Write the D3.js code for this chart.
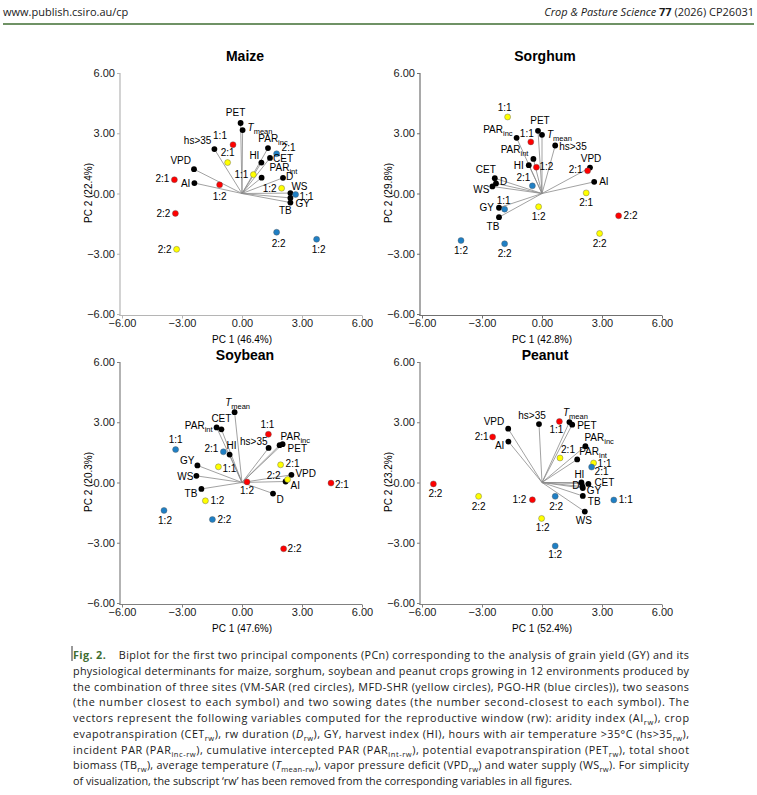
<!DOCTYPE html>
<html>
<head>
<meta charset="utf-8">
<script src="https://cdn.jsdelivr.net/npm/d3@7"></script>
<style>
  body { margin: 0; background: #fff; }
  svg { display: block; }
</style>
</head>
<body>
<script>
// ---- data: [variable, PC1, PC2]  and  [site, season:sowing, PC1, PC2]
const maizeVars = [
  ["PET", -0.07, 3.51], ["Tmean", 0.03, 3.16], ["hs>35", -1.38, 2.21], ["VPD", -2.40, 1.21],
  ["AI", -2.38, 0.52], ["PARinc", 1.30, 2.26], ["CET", 1.40, 1.77], ["HI", 0.97, 1.54],
  ["PARint", 0.98, 0.79], ["D", 2.05, 0.78], ["WS", 2.42, 0.02], ["GY", 2.42, -0.22], ["TB", 2.42, -0.45]
];
const maizeEnvs = [
  ["VM-SAR", "1:1", -0.45, 2.43], ["VM-SAR", "2:1", -3.38, 0.69], ["VM-SAR", "1:2", -1.12, 0.43], ["VM-SAR", "2:2", -3.33, -0.99],
  ["MFD-SHR", "2:1", -0.72, 1.54], ["MFD-SHR", "1:1", 0.57, 0.94], ["MFD-SHR", "1:2", 1.98, 0.26], ["MFD-SHR", "2:2", -3.27, -2.78],
  ["PGO-HR", "2:1", 1.73, 1.98], ["PGO-HR", "1:1", 2.68, -0.05], ["PGO-HR", "2:2", 1.73, -1.93], ["PGO-HR", "1:2", 3.73, -2.28]
];

const sorghumVars = [
  ["PET", -0.20, 3.12], ["Tmean", 0.00, 2.92], ["PARinc", -1.27, 2.77], ["hs>35", 0.66, 2.39],
  ["PARint", -0.43, 1.72], ["HI", -0.66, 1.41], ["VPD", 2.40, 1.29], ["AI", 2.61, 0.58],
  ["CET", -2.36, 0.76], ["D", -2.30, 0.50], ["WS", -2.48, 0.35], ["GY", -2.15, -0.71], ["TB", -2.15, -1.18]
];
const sorghumEnvs = [
  ["MFD-SHR", "1:1", -1.72, 3.81], ["VM-SAR", "1:1", -0.56, 2.57], ["VM-SAR", "1:2", -0.28, 1.31], ["PGO-HR", "2:1", -0.48, 0.38],
  ["VM-SAR", "2:1", 2.28, 1.13], ["MFD-SHR", "2:1", 2.21, 0.03], ["VM-SAR", "2:2", 3.83, -1.11], ["MFD-SHR", "2:2", 2.88, -1.99],
  ["MFD-SHR", "1:2", -0.17, -0.66], ["PGO-HR", "1:1", -1.87, -0.78], ["PGO-HR", "1:2", -4.05, -2.34], ["PGO-HR", "2:2", -1.87, -2.50]
];

const soybeanVars = [
  ["Tmean", -0.37, 3.50], ["PARint", -1.27, 2.74], ["CET", -1.03, 2.65], ["HI", -0.62, 1.39],
  ["hs>35", 1.33, 1.72], ["PARinc", 2.03, 1.91], ["PET", 1.88, 1.86], ["GY", -2.23, 0.85],
  ["WS", -2.28, 0.33], ["TB", -2.03, -0.32], ["VPD", 2.47, 0.38], ["AI", 2.18, 0.05], ["D", 1.55, -0.55]
];
const soybeanEnvs = [
  ["VM-SAR", "1:1", 1.32, 2.40], ["PGO-HR", "1:1", -3.32, 1.64], ["PGO-HR", "2:1", -0.93, 1.53], ["MFD-SHR", "1:1", -1.18, 0.78],
  ["MFD-SHR", "2:1", 1.93, 0.88], ["MFD-SHR", "2:2", 2.28, 0.15], ["VM-SAR", "1:2", 0.25, 0.03], ["VM-SAR", "2:1", 4.45, -0.03],
  ["MFD-SHR", "1:2", -1.83, -0.91], ["PGO-HR", "1:2", -3.90, -1.39], ["PGO-HR", "2:2", -1.48, -1.84], ["VM-SAR", "2:2", 2.08, -3.30]
];

const peanutVars = [
  ["VPD", -1.69, 2.68], ["AI", -1.68, 2.04], ["hs>35", -0.15, 2.91], ["Tmean", 1.37, 3.01],
  ["PET", 1.51, 2.88], ["PARinc", 2.17, 1.81], ["PARint", 1.76, 1.15], ["HI", 1.97, 0.00],
  ["D", 2.02, -0.20], ["CET", 2.32, -0.07], ["GY", 2.04, -0.28], ["TB", 2.04, -0.67], ["WS", 2.14, -1.45]
];
const peanutEnvs = [
  ["VM-SAR", "1:1", 0.87, 3.04], ["VM-SAR", "2:1", -2.47, 2.27], ["MFD-SHR", "2:1", 0.90, 1.22], ["MFD-SHR", "1:1", 2.58, 0.97],
  ["PGO-HR", "2:1", 2.48, 0.77], ["VM-SAR", "2:2", -5.43, -0.07], ["MFD-SHR", "2:2", -3.17, -0.69], ["VM-SAR", "1:2", -0.48, -0.86],
  ["PGO-HR", "2:2", 0.66, -0.69], ["PGO-HR", "1:1", 3.59, -0.87], ["MFD-SHR", "1:2", -0.02, -1.79], ["PGO-HR", "1:2", 0.66, -3.16]
];

const crops = ["Maize", "Sorghum", "Soybean", "Peanut"];
const pc1Share = ["46.4", "42.8", "47.6", "52.4"];
const pc2Share = ["22.4", "29.8", "20.3", "23.2"];
const axisTicks = [-6, -3, 0, 3, 6];
const siteColor = { "VM-SAR": "#ff0000", "MFD-SHR": "#ffff00", "PGO-HR": "#1f7fc4" };

// ---- label placement (anchor, dx, dy from the symbol)
const maizeVarPos = {
  "PET": ["middle", -5, -11], "Tmean": ["start", 5, -3], "hs>35": ["end", -3, -9], "VPD": ["end", -3, -9],
  "AI": ["end", -4, 0], "PARinc": ["middle", 5, -10], "CET": ["start", 3, 1], "HI": ["end", -2, -7],
  "PARint": ["start", 8, -10], "D": ["start", 3, -1], "WS": ["start", 1, -7], "GY": ["start", 5, 6], "TB": ["middle", -5, 8]
};
const maizeEnvPos = {
  "VM-SAR 1:1": ["middle", -13, -9], "VM-SAR 2:1": ["end", -5, -1], "VM-SAR 1:2": ["middle", 0, 12], "VM-SAR 2:2": ["end", -5, 0],
  "MFD-SHR 2:1": ["middle", 0, -10], "MFD-SHR 1:1": ["end", -5, 0], "MFD-SHR 1:2": ["end", -5, 0], "MFD-SHR 2:2": ["end", -5, 0],
  "PGO-HR 2:1": ["start", 5, -6], "PGO-HR 1:1": ["start", 4, 2], "PGO-HR 2:2": ["middle", 2, 11], "PGO-HR 1:2": ["middle", 2, 10]
};
const sorghumVarPos = {
  "PET": ["middle", 2, -10], "Tmean": ["start", 5, 0], "PARinc": ["end", -4, -8], "hs>35": ["start", 4, 1],
  "PARint": ["end", -5, -9], "HI": ["end", -5, 0], "VPD": ["middle", 1, -9], "AI": ["start", 5, 0],
  "CET": ["middle", -9, -9], "D": ["start", 4, -2], "WS": ["end", -3, 3], "GY": ["end", -5, 0], "TB": ["middle", -6, 9]
};
const sorghumEnvPos = {
  "MFD-SHR 1:1": ["middle", -3, -9], "VM-SAR 1:1": ["middle", -4, -8], "VM-SAR 1:2": ["start", 3, -1], "PGO-HR 2:1": ["middle", -9, -8],
  "VM-SAR 2:1": ["end", -5, -1], "MFD-SHR 2:1": ["middle", 0, 10], "VM-SAR 2:2": ["start", 5, 0], "MFD-SHR 2:2": ["middle", 0, 10],
  "MFD-SHR 1:2": ["middle", 0, 10], "PGO-HR 1:1": ["middle", -1, -9], "PGO-HR 1:2": ["middle", 0, 10], "PGO-HR 2:2": ["middle", 0, 10]
};
const soybeanVarPos = {
  "Tmean": ["middle", 3, -10], "PARint": ["end", -4, -2], "CET": ["middle", 0, -11], "HI": ["middle", 2, -9],
  "hs>35": ["end", -1, -6], "PARinc": ["start", -2, -8], "PET": ["start", 8, 3], "GY": ["end", -3, -5],
  "WS": ["end", -3, 1], "TB": ["end", -4, 5], "VPD": ["start", 4, -1], "AI": ["start", 5, 4], "D": ["middle", 7, 6]
};
const soybeanEnvPos = {
  "VM-SAR 1:1": ["middle", -1, -10], "PGO-HR 1:1": ["middle", 0, -10], "PGO-HR 2:1": ["end", -5, -3], "MFD-SHR 1:1": ["start", 4, 2],
  "MFD-SHR 2:1": ["start", 5, -1], "MFD-SHR 2:2": ["end", -7, -4], "VM-SAR 1:2": ["middle", 0, 9], "VM-SAR 2:1": ["start", 4, 1],
  "MFD-SHR 1:2": ["start", 5, 0], "PGO-HR 1:2": ["middle", 1, 10], "PGO-HR 2:2": ["start", 5, 0], "VM-SAR 2:2": ["start", 4, 0]
};
const peanutVarPos = {
  "VPD": ["end", -4, -7], "AI": ["end", -4, 4], "hs>35": ["middle", -7, -9], "Tmean": ["middle", 6, -10],
  "PET": ["start", 5, 1], "PARinc": ["start", -1, -9], "PARint": ["start", 2, -8], "HI": ["middle", -2, -8],
  "D": ["end", -3, -1], "CET": ["start", 6, -1], "GY": ["start", 4, 2], "TB": ["start", 5, 6], "WS": ["middle", -1, 9]
};
const peanutEnvPos = {
  "VM-SAR 1:1": ["middle", -3, 8], "VM-SAR 2:1": ["end", -4, 0], "MFD-SHR 2:1": ["middle", 8, -8], "MFD-SHR 1:1": ["start", 4, 0],
  "PGO-HR 2:1": ["start", 3, 4], "VM-SAR 2:2": ["middle", 2, 10], "MFD-SHR 2:2": ["middle", 0, 10], "VM-SAR 1:2": ["end", -6, 0],
  "PGO-HR 2:2": ["middle", 1, 10], "PGO-HR 1:1": ["start", 5, 0], "MFD-SHR 1:2": ["middle", 1, 9], "PGO-HR 1:2": ["middle", 0, 9]
};

const captionLines = [
  "Biplot for the first two principal components (PCn) corresponding to the analysis of grain yield (GY) and its",
  "physiological determinants for maize, sorghum, soybean and peanut crops growing in 12 environments produced by",
  "the combination of three sites (VM-SAR (red circles), MFD-SHR (yellow circles), PGO-HR (blue circles)), two seasons",
  "(the number closest to each symbol) and two sowing dates (the number second-closest to each symbol). The",
  "vectors represent the following variables computed for the reproductive window (rw): aridity index (AI_{rw}), crop",
  "evapotranspiration (CET_{rw}), rw duration (*D*_{rw}), GY, harvest index (HI), hours with air temperature >35°C (hs>35_{rw}),",
  "incident PAR (PAR_{inc-rw}), cumulative intercepted PAR (PAR_{int-rw}), potential evapotranspiration (PET_{rw}), total shoot",
  "biomass (TB_{rw}), average temperature (*T*_{mean-rw}), vapor pressure deficit (VPD_{rw}) and water supply (WS_{rw}). For simplicity",
  "of visualization, the subscript \u2018rw\u2019 has been removed from the corresponding variables in all figures."
];

const svg = d3.select("body").append("svg").attr("width", 757).attr("height", 795);
const plotFont = "'Liberation Sans', Arial, sans-serif";
const pageFont = "'Open Sans', 'Noto Sans', sans-serif";

// header
svg.append("text").attr("x", 3).attr("y", 16).attr("font-family", pageFont).attr("font-size", 11)
  .attr("fill", "#1a1a1a").text("www.publish.csiro.au/cp");
const rh = svg.append("text").attr("x", 754).attr("y", 16).attr("text-anchor", "end")
  .attr("font-family", pageFont).attr("font-size", 11).attr("fill", "#1a1a1a");
rh.append("tspan").attr("font-style", "italic").text("Crop & Pasture Science ");
rh.append("tspan").attr("font-weight", "bold").text("77");
rh.append("tspan").text(" (2026) CP26031");
svg.append("line").attr("x1", 3).attr("x2", 754).attr("y1", 24).attr("y2", 24)
  .attr("stroke", "#3f6e32").attr("stroke-width", 1.6);

function varText(sel, name) {
  if (name === "PARinc" || name === "PARint") {
    sel.append("tspan").text("PAR");
    sel.append("tspan").attr("font-size", "75%").attr("dy", 3).text(name.slice(3));
  } else if (name === "Tmean") {
    sel.append("tspan").attr("font-style", "italic").text("T");
    sel.append("tspan").attr("font-size", "75%").attr("dy", 3).text("mean");
  } else {
    sel.text(name);
  }
}

function drawPanel(i, vars, envs, varPos, envPos, px, py, titleGap, axisColor) {
  const x = d3.scaleLinear().domain([-6, 6]).range([px, px + 240]);
  const y = d3.scaleLinear().domain([-6, 6]).range([py + 241, py]);
  const g = svg.append("g");
  const fmt = d3.format(".2f");

  const ya = g.append("g").attr("transform", `translate(${px - 2},0)`)
    .call(d3.axisLeft(y).tickValues(axisTicks).tickFormat(fmt).tickSize(3).tickSizeOuter(0).tickPadding(2));
  const xa = g.append("g").attr("transform", `translate(0,${py + 242.5})`)
    .call(d3.axisBottom(x).tickValues(axisTicks).tickFormat(fmt).tickSize(3).tickSizeOuter(0).tickPadding(1));
  [ya, xa].forEach(a => {
    a.select(".domain").attr("stroke", axisColor).attr("stroke-width", 1.2);
    a.selectAll(".tick line").attr("stroke", axisColor);
    a.selectAll("text").attr("font-family", plotFont).attr("font-size", 11).attr("fill", "#222");
  });
  ya.select(".domain").attr("d", `M0,${y(6)}V${py + 243}`);
  xa.select(".domain").attr("d", `M${px - 2.6},0H${x(6)}`);

  g.append("text").attr("x", px + 123).attr("y", py - titleGap).attr("text-anchor", "middle")
    .attr("dominant-baseline", "central").attr("font-family", plotFont).attr("font-size", 14)
    .attr("font-weight", "bold").text(crops[i]);
  g.append("text").attr("x", px + 120).attr("y", py + 266).attr("text-anchor", "middle")
    .attr("dominant-baseline", "central").attr("font-family", plotFont).attr("font-size", 10)
    .text(`PC 1 (${pc1Share[i]}%)`);
  g.append("text").attr("transform", `translate(${px - 34},${py + 120}) rotate(-90)`)
    .attr("text-anchor", "middle").attr("dominant-baseline", "central")
    .attr("font-family", plotFont).attr("font-size", 10).text(`PC 2 (${pc2Share[i]}%)`);

  // vectors
  g.append("g").selectAll("line").data(vars).join("line")
    .attr("x1", x(0)).attr("y1", y(0))
    .attr("x2", d => x(d[1])).attr("y2", d => y(d[2]))
    .attr("stroke", "#8a8a8a").attr("stroke-width", 0.8);
  g.append("g").selectAll("circle").data(vars).join("circle")
    .attr("cx", d => x(d[1])).attr("cy", d => y(d[2])).attr("r", 2.9).attr("fill", "#000");
  g.append("g").selectAll("circle").data(envs).join("circle")
    .attr("cx", d => x(d[2])).attr("cy", d => y(d[3])).attr("r", 3)
    .attr("fill", d => siteColor[d[0]]).attr("stroke", "#555").attr("stroke-width", 0.4);

  g.append("g").selectAll("text").data(vars).join("text")
    .attr("x", d => x(d[1]) + varPos[d[0]][1]).attr("y", d => y(d[2]) + varPos[d[0]][2] + 3.5)
    .attr("text-anchor", d => varPos[d[0]][0])
    .attr("font-family", plotFont).attr("font-size", 10).attr("fill", "#000")
    .each(function (d) { varText(d3.select(this), d[0]); });
  g.append("g").selectAll("text").data(envs).join("text")
    .attr("x", d => x(d[2]) + envPos[d[0] + " " + d[1]][1])
    .attr("y", d => y(d[3]) + envPos[d[0] + " " + d[1]][2] + 3.5)
    .attr("text-anchor", d => envPos[d[0] + " " + d[1]][0])
    .attr("font-family", plotFont).attr("font-size", 10).attr("fill", "#000")
    .text(d => d[1]);
}

drawPanel(0, maizeVars, maizeEnvs, maizeVarPos, maizeEnvPos, 122, 73, 17, "#b5b5b5");
drawPanel(1, sorghumVars, sorghumEnvs, sorghumVarPos, sorghumEnvPos, 422, 73, 17, "#707070");
drawPanel(2, soybeanVars, soybeanEnvs, soybeanVarPos, soybeanEnvPos, 122, 362, 7, "#808080");
drawPanel(3, peanutVars, peanutEnvs, peanutVarPos, peanutEnvPos, 422, 362, 7, "#808080");

// caption
const capLeft = 73, capRight = 689, capTop = 659, capStep = 15.75;
svg.append("line").attr("x1", 72).attr("x2", 72).attr("y1", 646).attr("y2", 661)
  .attr("stroke", "#000").attr("stroke-width", 0.8);
captionLines.forEach((line, k) => {
  const t = svg.append("text").attr("x", capLeft).attr("y", capTop + k * capStep)
    .attr("font-family", pageFont).attr("font-size", 10.8).attr("fill", "#1a1a1a");
  if (k === 0) {
    t.append("tspan").attr("font-weight", "bold").attr("fill", "#3f6e32").text("Fig. 2.");
    t.append("tspan").text("\u00a0\u00a0\u00a0 ");
  }
  line.split(/(\*[^*]+\*|_\{[^}]+\})/).forEach(part => {
    if (!part) return;
    if (part[0] === "*") t.append("tspan").attr("font-style", "italic").text(part.slice(1, -1));
    else if (part[0] === "_") {
      t.append("tspan").attr("font-size", "70%").attr("baseline-shift", "-2.5").text(part.slice(2, -1));
    } else t.append("tspan").text(part);
  });
  if (k < captionLines.length - 1) {
    t.attr("textLength", capRight - capLeft).attr("lengthAdjust", "spacing");
  }
});
</script>
</body>
</html>
